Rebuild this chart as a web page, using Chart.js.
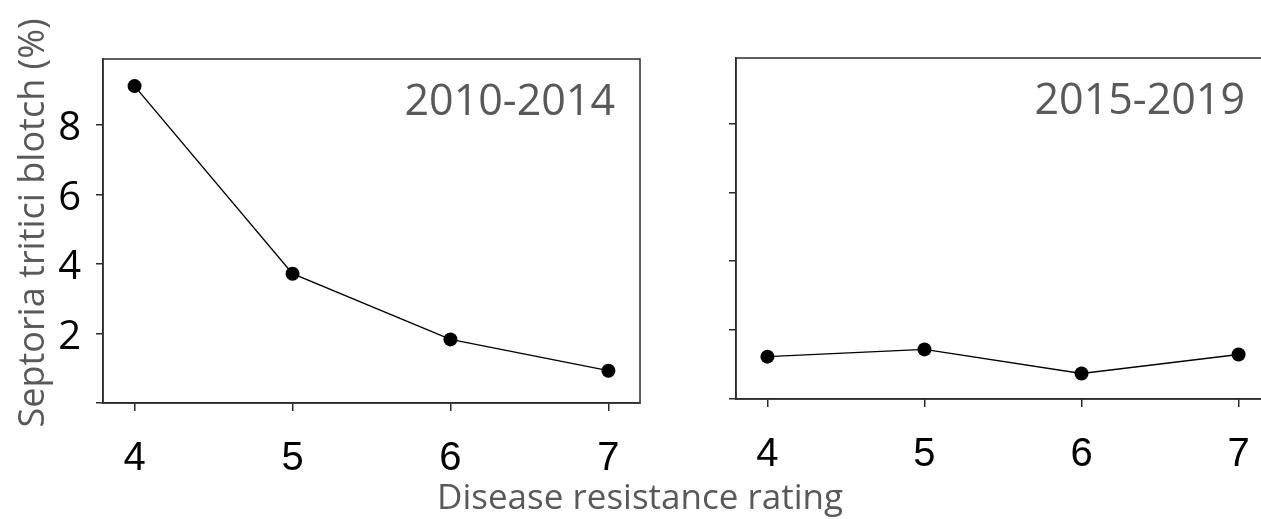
<!DOCTYPE html>
<html>
<head>
<meta charset="utf-8">
<script src="https://cdn.jsdelivr.net/npm/chart.js@4.4.1/dist/chart.umd.min.js"></script>
<style>
    html, body { margin: 0; padding: 0; background: #fff; overflow: hidden; }
    body { width: 1261px; height: 519px; position: relative; }
    canvas { position: absolute; top: 0; }
    #c-left { left: 0; }
    #c-right { left: 650px; }
    .axis-title {
        position: absolute;
        font-family: 'Open Sans', sans-serif;
        color: #595959;
        line-height: 1;
        white-space: nowrap;
        text-align: center;
    }
    #y-title {
        font-size: 36px;
        width: 460px;
        left: -199px;
        top: 205px;
        transform: rotate(-90deg);
    }
    #x-title {
        font-size: 35px;
        width: 500px;
        left: 390px;
        top: 478px;
    }
</style>
</head>
<body>
<canvas id="c-left" width="660" height="519"></canvas>
<canvas id="c-right" width="640" height="519"></canvas>
<div id="y-title" class="axis-title">Septoria tritici blotch (%)</div>
<div id="x-title" class="axis-title">Disease resistance rating</div>

<script>
// --- Data ---
const ratings = [4, 5, 6, 7];
const stb2010to2014 = [9.12, 3.72, 1.83, 0.93];
const stb2015to2019 = [1.23, 1.44, 0.74, 1.29];
const panelLabels = ['2010-2014', '2015-2019'];
const xTickValues = [4, 5, 6, 7];
const yTickValues = [0, 2, 4, 6, 8];
const yTickLabelsLeft = ['', '2', '4', '6', '8'];

const AXIS_COLOR = '#2b2b2b';

// draws the closed box + the period label in the top right corner
const boxPlugin = {
    id: 'panelBox',
    afterDraw(chart, args, opts) {
        const { ctx, chartArea } = chart;
        ctx.save();
        ctx.strokeStyle = AXIS_COLOR;
        ctx.lineWidth = 1.5;
        ctx.strokeRect(chartArea.left, chartArea.top,
            chartArea.right - chartArea.left, chartArea.bottom - chartArea.top);
        ctx.fillStyle = '#595959';
        ctx.font = '43px "Open Sans"';
        ctx.textAlign = 'right';
        ctx.textBaseline = 'alphabetic';
        ctx.fillText(opts.text, chartArea.right - 25, chartArea.top + 56);
        ctx.restore();
    }
};

function makePanel(canvasId, values, label, yLabels, cfg) {
    const ctx = document.getElementById(canvasId).getContext('2d');
    return new Chart(ctx, {
        type: 'line',
        data: {
            datasets: [{
                data: ratings.map((r, i) => ({ x: r, y: values[i] })),
                borderColor: '#000',
                borderWidth: 1.4,
                backgroundColor: '#000',
                pointBackgroundColor: '#000',
                pointBorderWidth: 0,
                pointRadius: 7,
                tension: 0,
                fill: false,
                clip: false
            }]
        },
        options: {
            responsive: false,
            animation: false,
            events: [],
            layout: {
                padding: { top: cfg.top, right: cfg.right, left: 0, bottom: 0 }
            },
            plugins: {
                legend: { display: false },
                tooltip: { enabled: false },
                panelBox: { text: label }
            },
            scales: {
                x: {
                    type: 'linear',
                    min: 3.8,
                    max: 7.2,
                    afterBuildTicks: (scale) => {
                        scale.ticks = xTickValues.map(v => ({ value: v }));
                    },
                    afterFit: (scale) => { scale.height = cfg.xHeight; },
                    border: { display: true, color: AXIS_COLOR, width: 1.5 },
                    grid: {
                        drawOnChartArea: false,
                        drawTicks: true,
                        tickLength: 8,
                        color: AXIS_COLOR,
                        lineWidth: 1.5
                    },
                    ticks: {
                        color: '#000',
                        padding: 24,
                        maxRotation: 0,
                        font: { family: 'Liberation Sans', size: 40 }
                    }
                },
                y: {
                    min: 0,
                    max: 9.9,
                    afterBuildTicks: (scale) => {
                        scale.ticks = yTickValues.map(v => ({ value: v }));
                    },
                    afterFit: (scale) => { scale.width = cfg.yWidth; },
                    border: { display: true, color: AXIS_COLOR, width: 1.5 },
                    grid: {
                        drawOnChartArea: false,
                        drawTicks: true,
                        tickLength: 7,
                        color: AXIS_COLOR,
                        lineWidth: 1.5
                    },
                    ticks: {
                        color: '#000',
                        padding: 15,
                        labelOffset: 4,
                        font: { family: 'Open Sans', size: 40 },
                        callback: (value, index) => yLabels[index]
                    }
                }
            }
        },
        plugins: [boxPlugin]
    });
}

makePanel('c-left', stb2010to2014, panelLabels[0], yTickLabelsLeft,
    { top: 59, right: 20, xHeight: 116, yWidth: 103 });
makePanel('c-right', stb2015to2019, panelLabels[1], yTickValues.map(() => ''),
    { top: 58, right: 20, xHeight: 120, yWidth: 86 });
</script>
</body>
</html>
